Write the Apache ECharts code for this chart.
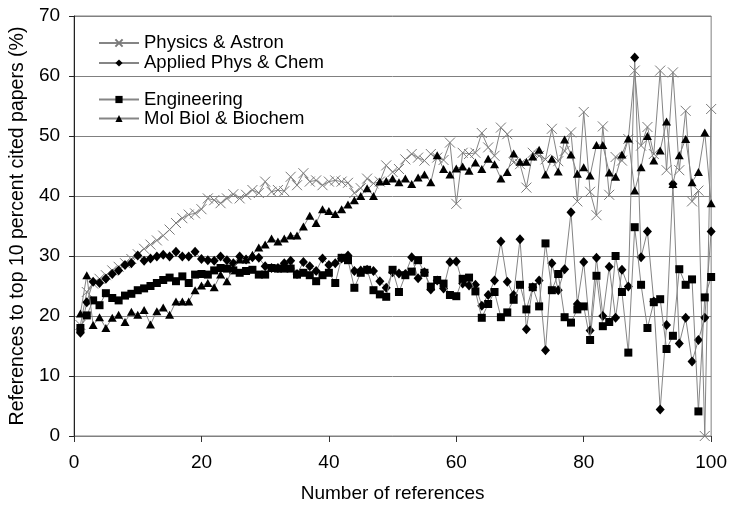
<!DOCTYPE html>
<html>
<head>
<meta charset="utf-8">
<script src="https://cdn.jsdelivr.net/npm/echarts@6/dist/echarts.min.js"></script>
<style>
html,body{margin:0;padding:0;background:#fff;}
#c{width:730px;height:508px;}
</style>
</head>
<body>
<div id="c"></div>
<script>
const refs = [1,2,3,4,5,6,7,8,9,10,11,12,13,14,15,16,17,18,19,20,21,22,23,24,25,26,27,28,29,30,31,32,33,34,35,36,37,38,39,40,41,42,43,44,45,46,47,48,49,50,51,52,53,54,55,56,57,58,59,60,61,62,63,64,65,66,67,68,69,70,71,72,73,74,75,76,77,78,79,80,81,82,83,84,85,86,87,88,89,90,91,92,93,94,95,96,97,98,99,100];

const physics = [18.5,24,25.4,26.2,26.8,27.6,28.2,28.8,29.5,30.3,
 31.2,31.9,32.6,33.4,34.4,35.5,36.3,36.9,37.1,37.8,
 39.6,39.3,38.8,39.6,40.3,39.6,40.2,41,40.5,42.4,
 40.7,41,40.8,43.2,41.8,43.8,42.4,42.6,41.8,42.4,
 42.6,42.4,42.2,40.5,41.3,42.9,42.1,42.4,45.1,44,
 44.5,46.1,47,46.4,45.9,47,46.4,46,48.9,38.7,
 47.2,47,47.2,50.5,48.1,46.7,51.4,50.3,45.6,45.3,
 41.4,47.2,46.7,46.1,51.2,45.8,47.5,50.6,39.1,54,
 40.7,36.8,51.6,40.2,46.5,45.9,49.5,60.9,48.4,51.5,
 47,60.9,44.3,60.6,44.3,54.2,39.1,40.9,0,54.5];

const applied = [17.2,22.3,25.7,25.5,26.2,27,27.6,28.5,28.8,30.1,
 29.2,29.6,29.9,30.2,29.9,30.7,29.9,29.9,30.7,29.5,
 29.3,29.2,29.9,29.3,28.8,29.9,29.4,29.8,29.7,28.3,
 28,28,28.8,29.2,27,29,28.3,27.5,29.6,28.5,
 28.8,29.6,30.1,27.5,27.6,27.7,27.5,25.8,24.7,27.3,
 27.1,27,29.8,26.3,27.3,24.4,25.9,24.6,29,29.1,
 25.4,25.1,25.2,21.7,23.5,25.9,32.4,25.7,23.5,32.8,
 17.8,24.8,25.9,14.3,28.8,24.3,27.8,37.3,22,29,
 17.6,29.7,20,28.2,19.7,27.7,24.9,63.1,29.8,34.1,
 22.4,4.4,18.5,42,15.4,19.7,12.4,16,19.7,34.1];

const engineering = [18,20.1,22.6,21.8,23.8,23,22.6,23.4,23.7,24.3,
 24.6,25,25.5,26,26.4,25.8,26.6,25.5,26.9,27,
 26.9,27.6,28,27.9,27.6,27.2,27.5,27.7,26.9,26.9,
 28,27.9,27.9,27.9,26.9,27.2,26.8,25.8,26.8,27.2,
 25.5,29.7,29.3,24.7,27.2,27.7,24.3,23.6,23.2,27.7,
 24,26.8,27.4,29.3,27.2,24.9,26,25.4,23.5,23.3,
 26.2,26.4,24.1,19.7,22,24,19.8,20.6,22.7,25.2,
 21.1,24.8,21.6,32.1,24.3,27,19.8,18.9,21.1,21.6,
 16,26.7,18.3,19,30,24,13.9,34.8,25.2,18,
 22.3,22.8,14.5,16.7,27.8,25.2,26.1,4.1,23.1,26.5];

const molbio = [20.4,26.8,18.5,19.8,18,19.7,20.2,19,20.7,20.2,
 21,18.6,20.8,21.4,20.2,22.4,22.4,22.4,24.3,25.1,
 25.5,24.8,26.9,25.8,28,29.4,29.4,30.2,31.4,31.9,
 32.9,32.4,32.9,33.4,33.4,34.9,36.7,35.5,37.8,37.5,
 37,37.8,38.6,39.3,40,41.3,40,42.4,42.5,42.9,
 42.3,42.9,42,43.1,43.6,42.3,46.8,44.5,43.6,44.6,
 44.9,44.2,45.6,44.5,46.2,45.3,42.9,44,47.1,45.7,
 45.7,46.6,47.7,43.6,46.2,44.1,49.4,46.9,43.7,44.8,
 43.4,48.5,48.5,43.9,43.2,46.9,49.6,40.9,44.8,50,
 45.9,47.6,52.4,42,46.8,49.5,42.3,44,50.6,38.8];

const seriesNames = ['Physics & Astron','Applied Phys & Chem','Engineering','Mol Biol & Biochem'];
const xTicks = [0,20,40,60,80,100];
const yTicks = [0,10,20,30,40,50,60,70];

const FONT = '"Liberation Sans", Arial, sans-serif';
const pair = arr => refs.map((x,i)=>[x, arr[i]]);
const LINE = '#858585';

const chart = echarts.init(document.getElementById('c'), null, {renderer:'canvas'});
chart.setOption({
  animation:false,
  backgroundColor:'#fff',
  textStyle:{fontFamily:FONT},
  grid:{left:72,right:17,top:16,bottom:70,show:true,borderColor:'#808080',borderWidth:1},
  legend:[
    {data:[seriesNames[0],seriesNames[1]],orient:'vertical',left:93,top:28,itemWidth:40,itemHeight:9,itemGap:0,
     textStyle:{fontSize:18.5,fontFamily:FONT,color:'#000',lineHeight:20},selectedMode:false},
    {data:[seriesNames[2],seriesNames[3]],orient:'vertical',left:93,top:85,itemWidth:40,itemHeight:9,itemGap:0,
     textStyle:{fontSize:18.5,fontFamily:FONT,color:'#000',lineHeight:19},selectedMode:false}
  ],
  xAxis:{type:'value',min:xTicks[0],max:xTicks[xTicks.length-1],interval:20,
    name:'Number of references',nameLocation:'middle',nameGap:48,
    nameTextStyle:{fontSize:19,color:'#000',fontFamily:FONT},
    axisLine:{show:true,lineStyle:{color:'#808080',width:1}},
    axisTick:{show:true,length:6,lineStyle:{color:'#333'}},
    axisLabel:{fontSize:19,color:'#000',margin:17,fontFamily:FONT},
    splitLine:{show:false}},
  yAxis:{type:'value',min:yTicks[0],max:yTicks[yTicks.length-1],interval:10,
    name:'References to top 10 percent cited papers (%)',nameLocation:'middle',nameGap:45,
    nameTextStyle:{fontSize:19.5,color:'#000',fontFamily:FONT},
    axisLine:{show:true,lineStyle:{color:'#222',width:1}},
    axisTick:{show:true,length:5,lineStyle:{color:'#222'}},
    axisLabel:{fontSize:19,color:'#000',margin:14,fontFamily:FONT},
    splitLine:{show:true,lineStyle:{color:'#808080',width:1}}},
  series:[
    {name:seriesNames[0],type:'line',data:pair(physics),showAllSymbol:true,
     symbol:'path://M0,0L10,10M10,0L0,10',symbolSize:10,
     itemStyle:{color:'rgba(0,0,0,0)',borderColor:'#7a7a7a',borderWidth:1},
     lineStyle:{color:LINE,width:1},z:2},
    {name:seriesNames[1],type:'line',data:pair(applied),showAllSymbol:true,
     symbol:'diamond',symbolSize:[9,10],
     itemStyle:{color:'#000',borderColor:'#000',borderWidth:0},
     lineStyle:{color:LINE,width:1},z:3},
    {name:seriesNames[2],type:'line',data:pair(engineering),showAllSymbol:true,
     symbol:'rect',symbolSize:8,
     itemStyle:{color:'#000',borderColor:'#000',borderWidth:0},
     lineStyle:{color:LINE,width:1},z:4},
    {name:seriesNames[3],type:'line',data:pair(molbio),showAllSymbol:true,
     symbol:'triangle',symbolSize:[9,8],
     itemStyle:{color:'#000',borderColor:'#000',borderWidth:0},
     lineStyle:{color:LINE,width:1},z:5}
  ]
});
</script>
</body>
</html>
